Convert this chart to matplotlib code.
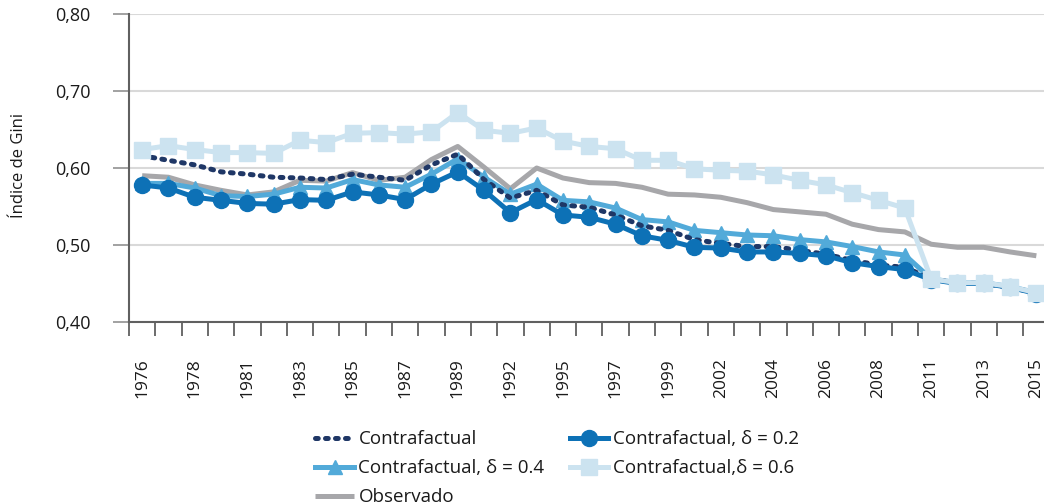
import matplotlib
matplotlib.use('Agg')
import matplotlib.pyplot as plt

plt.rcParams['font.family'] = ['Open Sans', 'DejaVu Sans']

years = [1976, 1977, 1978, 1979, 1981, 1982, 1983, 1984, 1985, 1986, 1987, 1988,
         1989, 1990, 1992, 1993, 1995, 1996, 1997, 1998, 1999, 2001, 2002, 2003,
         2004, 2005, 2006, 2007, 2008, 2009, 2011, 2012, 2013, 2014, 2015]

contrafactual = [0.616, 0.610, 0.604, 0.595, 0.592, 0.588, 0.587, 0.585, 0.592, 0.588,
                 0.584, 0.604, 0.618, 0.585, 0.561, 0.571, 0.552, 0.549, 0.539, 0.525,
                 0.519, 0.507, 0.502, 0.498, 0.498, 0.493, 0.488, 0.480, 0.474, 0.471,
                 0.456, 0.451, 0.450, 0.445, 0.438]

cf_d02 = [0.578, 0.574, 0.562, 0.558, 0.554, 0.553, 0.559, 0.558, 0.569, 0.565,
          0.559, 0.579, 0.595, 0.571, 0.542, 0.559, 0.539, 0.536, 0.527, 0.512,
          0.506, 0.497, 0.496, 0.491, 0.491, 0.489, 0.486, 0.477, 0.472, 0.468,
          0.455, 0.450, 0.450, 0.445, 0.437]

cf_d04 = [0.580, 0.580, 0.574, 0.564, 0.563, 0.566, 0.575, 0.574, 0.585, 0.578,
          0.575, 0.592, 0.612, 0.588, 0.566, 0.579, 0.558, 0.556, 0.548, 0.533,
          0.530, 0.519, 0.516, 0.513, 0.512, 0.507, 0.504, 0.498, 0.491, 0.487,
          0.456, 0.451, 0.451, 0.446, 0.438]

cf_d06 = [0.624, 0.629, 0.624, 0.620, 0.620, 0.619, 0.636, 0.633, 0.645, 0.646,
          0.644, 0.647, 0.672, 0.649, 0.645, 0.652, 0.635, 0.628, 0.625, 0.610,
          0.610, 0.599, 0.597, 0.596, 0.591, 0.584, 0.578, 0.568, 0.558, 0.548,
          0.456, 0.451, 0.451, 0.446, 0.438]

observado = [0.590, 0.588, 0.578, 0.571, 0.565, 0.569, 0.584, 0.583, 0.594, 0.584,
             0.588, 0.611, 0.628, 0.601, 0.573, 0.600, 0.587, 0.581, 0.580, 0.575,
             0.566, 0.565, 0.562, 0.555, 0.546, 0.543, 0.540, 0.527, 0.520, 0.517,
             0.501, 0.497, 0.497, 0.491, 0.486]

yticks = [0.40, 0.50, 0.60, 0.70, 0.80]
ytick_labels = ['0,40', '0,50', '0,60', '0,70', '0,80']

labels = ['Contrafactual', 'Contrafactual, δ = 0.2', 'Contrafactual, δ = 0.4',
          'Contrafactual,δ = 0.6', 'Observado']

c_navy = '#1f3766'
c_d02 = '#0d71b6'
c_d04 = '#52aad9'
c_d06 = '#cce3f0'
c_gray = '#a7a7aa'

W, H = 1044, 503
fig = plt.figure(figsize=(W / 100, H / 100), dpi=100)
ax = fig.add_axes([129 / W, (H - 322) / H, 35 * 26.3 / W, (322 - 14) / H])

x = list(range(len(years)))
lw = 3.6
h_obs, = ax.plot(x, observado, color=c_gray, lw=lw, zorder=2, solid_capstyle='butt')
h_d04, = ax.plot(x, cf_d04, color=c_d04, lw=lw, marker='^', ms=10, zorder=3)
h_cf, = ax.plot(x, contrafactual, color=c_navy, lw=3.6, ls=(0, (0.55, 1.45)),
                dash_capstyle='round', zorder=4)
h_d02, = ax.plot(x, cf_d02, color=c_d02, lw=lw, marker='o', ms=11.5, zorder=5)
h_d06, = ax.plot(x, cf_d06, color=c_d06, lw=lw, marker='s', ms=12, zorder=6)

ax.set_xlim(-0.5, len(years) - 0.5)
ax.set_ylim(0.40, 0.80)
ax.set_yticks(yticks)
ax.set_yticklabels(ytick_labels)
ax.yaxis.grid(True, color='#d9d9d9', lw=1.5)
ax.set_axisbelow(True)

ax.set_xticks(x[::2])
ax.set_xticklabels([str(y) for y in years[::2]], rotation=90)
ax.set_xticks([i - 0.5 for i in range(len(years) + 1)], minor=True)
ax.tick_params(axis='x', which='major', length=0, pad=26, labelsize=12.5, colors='#1a1a1a')
ax.tick_params(axis='x', which='minor', length=10, width=1.3, color='#606060', direction='out')
ax.tick_params(axis='y', which='major', length=11.5, width=1.3, color='#9a9a9a',
               pad=16, labelsize=13, labelcolor='#1a1a1a')

for s in ['top', 'right']:
    ax.spines[s].set_visible(False)
for s in ['left', 'bottom']:
    ax.spines[s].set_color('#606060')
    ax.spines[s].set_linewidth(1.5)

fig.text(19 / W, (H - 166) / H, 'Índice de Gini', rotation=90, ha='center', va='center',
         fontsize=12, color='#1a1a1a')

handles = [h_cf, h_d04, h_obs, h_d02, h_d06]
leg_labels = [labels[0], labels[2], labels[4], labels[1], labels[3]]
leg = fig.legend(handles, leg_labels, ncol=2, loc='upper left',
                 bbox_to_anchor=(306 / W, (H - 421) / H), frameon=False,
                 fontsize=13.5, handlelength=2.05, handletextpad=0.25,
                 columnspacing=1.35, labelspacing=0.58, borderpad=0, numpoints=1)
for t in leg.get_texts():
    t.set_color('#1a1a1a')

fig.savefig('out.png', dpi=100)
